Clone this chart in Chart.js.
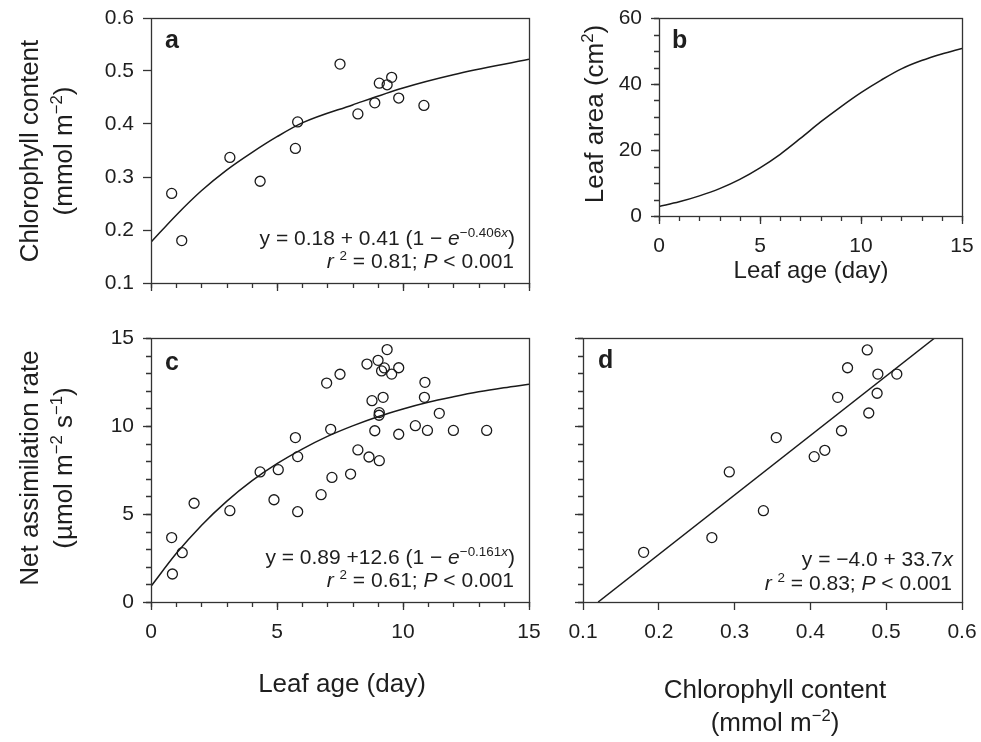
<!DOCTYPE html>
<html><head><meta charset="utf-8">
<script src="https://cdn.jsdelivr.net/npm/chart.js@4.4.0/dist/chart.umd.min.js"></script>
<style>
body{margin:0;background:#fff;}
#wrap{position:relative;width:981px;height:742px;overflow:hidden;font-family:"Liberation Sans",Arial,sans-serif;color:#1e1e1e;}
canvas{position:absolute;left:0;top:0;}
.t{position:absolute;white-space:nowrap;}
.sup{font-size:0.64em;position:relative;top:-0.62em;line-height:0;}
</style>
</head><body>
<div id="wrap">
<canvas id="ca" width="981" height="742"></canvas>
<canvas id="cb" width="981" height="742"></canvas>
<canvas id="cc" width="981" height="742"></canvas>
<canvas id="cd" width="981" height="742"></canvas>
</div>
<script>
// ---------- data ----------
// panel a: chlorophyll vs leaf age
const dayA = [0.82, 1.22, 3.13, 4.33, 5.73, 5.82, 7.5, 8.21, 8.88, 9.06, 9.37, 9.55, 9.83, 10.83];
const chlA = [0.269, 0.18, 0.337, 0.292, 0.354, 0.404, 0.513, 0.419, 0.44, 0.477, 0.474, 0.488, 0.449, 0.435];
const fitDayA = [0, 1, 2, 3, 4, 5, 6, 8, 10, 12, 15];
const fitChlA = [0.177, 0.228, 0.274, 0.313, 0.346, 0.376, 0.402, 0.436, 0.468, 0.493, 0.522];
// panel b: leaf area curve
const fitDayB = [0, 1, 2, 3, 4, 5, 6, 7, 8, 9, 10, 11, 12, 13, 14, 15];
const areaB = [2.9, 4.3, 6.1, 8.3, 11.1, 14.6, 18.7, 23.5, 28.5, 33.1, 37.4, 41.2, 44.6, 47.1, 49.1, 50.8];
// panel c: net assimilation vs leaf age
const dayC = [0.82, 0.85, 1.24, 1.71, 3.13, 4.33, 4.88, 5.05, 5.73, 5.82, 5.82, 6.75, 6.97, 7.13, 7.18, 7.5, 7.92, 8.21, 8.57, 8.65,
              8.77, 8.88, 9.01, 9.06, 9.06, 9.05, 9.15, 9.21, 9.26, 9.37, 9.55, 9.83, 9.83, 10.49, 10.87, 10.85, 10.97, 11.44, 12.0, 13.32];
const rateC = [3.66, 1.59, 2.8, 5.61, 5.19, 7.39, 5.81, 7.52, 9.34, 8.26, 5.13, 6.1, 12.44, 9.81, 7.08, 12.94, 7.27, 8.64, 13.52, 8.24,
               11.44, 9.73, 13.73, 8.03, 10.76, 10.61, 13.13, 11.63, 13.3, 14.34, 12.95, 13.31, 9.53, 10.02, 12.48, 11.63, 9.75, 10.72, 9.75, 9.75];
const fitDayC = [0, 1, 2, 3, 4, 5, 6, 7, 8, 9, 10, 11, 12, 13, 14, 15];
const fitRateC = [0.89, 2.75, 4.35, 5.72, 6.88, 7.86, 8.69, 9.41, 10.01, 10.53, 10.97, 11.35, 11.66, 11.94, 12.17, 12.37];
// panel d: net assimilation vs chlorophyll
const chlD = [0.18, 0.27, 0.293, 0.338, 0.355, 0.405, 0.419, 0.436, 0.441, 0.449, 0.475, 0.477, 0.488, 0.489, 0.514];
const rateD = [2.82, 3.66, 7.39, 5.19, 9.34, 8.26, 8.62, 11.63, 9.73, 13.31, 14.32, 10.74, 11.86, 12.95, 12.95];
const fitChlD = [0.12, 0.564];
const fitRateD = [0.0, 15.0];
// tick settings
const dayTicks = {min: 0, max: 15, step: 5, minor: 1};
const chlTicks = {min: 0.1, max: 0.6, step: 0.1, minor: 0};
const rateTicks = {min: 0, max: 15, step: 5, minor: 1};
const areaTicks = {min: 0, max: 60, step: 20, minor: 5};

// ---------- styling ----------
const AX = '#333333', LW = 1.3, TXT = '#1e1e1e', FONT = '"Liberation Sans", Arial, sans-serif';
const MINOR = 5, MAJOR = 8;

const framePlugin = {
  id: 'frame',
  afterDraw(chart, args, opts) {
    const ctx = chart.ctx, a = chart.chartArea;
    const xs = chart.scales.x, ys = chart.scales.y;
    ctx.save();
    ctx.strokeStyle = AX; ctx.lineWidth = LW;
    ctx.strokeRect(Math.round(a.left) + 0.5, Math.round(a.top) + 0.5, Math.round(a.right - a.left), Math.round(a.bottom - a.top));
    ctx.beginPath();
    if (opts.xMinor) {
      const n = Math.round((xs.max - xs.min) / opts.xMinor);
      for (let i = 0; i <= n; i++) {
        const p = Math.round(xs.getPixelForValue(xs.min + i * opts.xMinor)) + 0.5;
        ctx.moveTo(p, a.bottom); ctx.lineTo(p, a.bottom + MINOR);
      }
    }
    if (opts.yMinor) {
      const n = Math.round((ys.max - ys.min) / opts.yMinor);
      for (let i = 0; i <= n; i++) {
        const p = Math.round(ys.getPixelForValue(ys.min + i * opts.yMinor)) + 0.5;
        ctx.moveTo(a.left, p); ctx.lineTo(a.left - MINOR, p);
      }
    }
    ctx.stroke();
    ctx.restore();
  }
};

function axis(t, labels, horiz, dec) {
  return {
    type: 'linear', min: t.min, max: t.max,
    border: {display: false},
    grid: {display: true, drawOnChartArea: false, drawTicks: true, tickLength: MAJOR, tickColor: AX, tickWidth: LW},
    ticks: {
      stepSize: t.step, autoSkip: false, maxRotation: 0, color: TXT,
      font: {family: FONT, size: 21}, padding: horiz ? 10 : 9,
      callback: v => labels ? (dec ? Number(v).toFixed(1) : String(Math.round(v))) : ''
    },
    afterFit: horiz ? (s => {s.height = 50; s.paddingLeft = 0; s.paddingRight = 0;})
                    : (s => {s.width = 60; s.paddingTop = 0; s.paddingBottom = 0;})
  };
}

function pts(xs, ys) { return xs.map((x, i) => ({x: x, y: ys[i]})); }

function makeChart(id, area, xt, xLab, xDec, yt, yLab, yDec, scatter, fit, monotone) {
  const datasets = [];
  datasets.push({data: pts(fit[0], fit[1]), showLine: true, borderColor: '#1a1a1a', borderWidth: 1.5,
    pointRadius: 0, tension: monotone ? 0.4 : 0, cubicInterpolationMode: monotone ? 'monotone' : 'default', fill: false});
  if (scatter) datasets.push({data: pts(scatter[0], scatter[1]), showLine: false, pointRadius: 5, pointBorderWidth: 1.3,
    pointBorderColor: '#1a1a1a', pointBackgroundColor: 'rgba(0,0,0,0)', pointStyle: 'circle'});
  return new Chart(document.getElementById(id), {
    type: 'scatter',
    data: {datasets},
    options: {
      responsive: false, animation: false, events: [], devicePixelRatio: 1,
      layout: {padding: {left: area.l - 60, top: area.t, right: 981 - area.r, bottom: 742 - area.b - 50}},
      plugins: {legend: {display: false}, tooltip: {enabled: false}, frame: {xMinor: xt.minor, yMinor: yt.minor}},
      scales: {x: axis(xt, xLab, true, xDec), y: axis(yt, yLab, false, yDec)}
    },
    plugins: [framePlugin]
  });
}

makeChart('ca', {l: 151, t: 18, r: 529, b: 283}, dayTicks, false, false, chlTicks, true, true, [dayA, chlA], [fitDayA, fitChlA], true);
makeChart('cb', {l: 659, t: 18, r: 962, b: 216}, dayTicks, true, false, areaTicks, true, false, null, [fitDayB, areaB], true);
makeChart('cc', {l: 151, t: 338, r: 529, b: 602}, dayTicks, true, false, rateTicks, true, false, [dayC, rateC], [fitDayC, fitRateC], true);
makeChart('cd', {l: 583, t: 338, r: 962, b: 602}, chlTicks, true, true, rateTicks, false, false, [chlD, rateD], [fitChlD, fitRateD], false);

// ---------- text ----------
const wrap = document.getElementById('wrap');
function place(html, o) {
  const d = document.createElement('div');
  d.className = 't';
  const fs = o.fs;
  d.style.fontSize = fs + 'px';
  d.style.lineHeight = fs + 'px';
  d.style.height = fs + 'px';
  if (o.bold) d.style.fontWeight = 'bold';
  d.innerHTML = html;
  if (o.rot) {
    const W = 400;
    const cx = o.baseX - 0.3465 * fs;
    d.style.width = W + 'px';
    d.style.textAlign = 'center';
    d.style.left = (cx - W / 2) + 'px';
    d.style.top = (o.cy - fs / 2) + 'px';
    d.style.transform = 'rotate(-90deg)';
  } else {
    const top = o.base - 0.8465 * fs;
    d.style.top = top + 'px';
    if (o.align === 'right') { d.style.width = '600px'; d.style.left = (o.x - 600) + 'px'; d.style.textAlign = 'right'; }
    else if (o.align === 'center') { d.style.width = '600px'; d.style.left = (o.x - 300) + 'px'; d.style.textAlign = 'center'; }
    else { d.style.left = o.x + 'px'; }
  }
  wrap.appendChild(d);
}
const sup = s => '<span class="sup">' + s + '</span>';

// panel letters
place('a', {x: 165, base: 48, fs: 25, bold: true});
place('b', {x: 672, base: 48, fs: 25, bold: true});
place('c', {x: 165, base: 370, fs: 25, bold: true});
place('d', {x: 598, base: 368, fs: 25, bold: true});

// y-axis titles
place('Chlorophyll content', {rot: true, baseX: 38, cy: 151, fs: 26});
place('(mmol m' + sup('−2') + ')', {rot: true, baseX: 72, cy: 151, fs: 26});
place('Leaf area (cm' + sup('2') + ')', {rot: true, baseX: 603, cy: 114, fs: 26});
place('Net assimilation rate', {rot: true, baseX: 38, cy: 468, fs: 26});
place('(µmol m' + sup('−2') + ' s' + sup('−1') + ')', {rot: true, baseX: 72, cy: 468, fs: 26});

// x-axis titles
place('Leaf age (day)', {x: 811, base: 278, fs: 24, align: 'center'});
place('Leaf age (day)', {x: 342, base: 692, fs: 26, align: 'center'});
place('Chlorophyll content', {x: 775, base: 698, fs: 26, align: 'center'});
place('(mmol m' + sup('−2') + ')', {x: 775, base: 731, fs: 26, align: 'center'});

// equations
place('y = 0.18 + 0.41 (1 − <i>e</i>' + sup('−0.406<i>x</i>') + ')', {x: 515, base: 245, fs: 21, align: 'right'});
place('<i>r</i> ' + sup('2') + ' = 0.81; <i>P</i> &lt; 0.001', {x: 514, base: 268, fs: 21, align: 'right'});
place('y = 0.89 +12.6 (1 − <i>e</i>' + sup('−0.161<i>x</i>') + ')', {x: 515, base: 564, fs: 21, align: 'right'});
place('<i>r</i> ' + sup('2') + ' = 0.61; <i>P</i> &lt; 0.001', {x: 514, base: 587, fs: 21, align: 'right'});
place('y = −4.0 + 33.7<i>x</i>', {x: 953, base: 566, fs: 21, align: 'right'});
place('<i>r</i> ' + sup('2') + ' = 0.83; <i>P</i> &lt; 0.001', {x: 952, base: 590, fs: 21, align: 'right'});
</script>
</body></html>
